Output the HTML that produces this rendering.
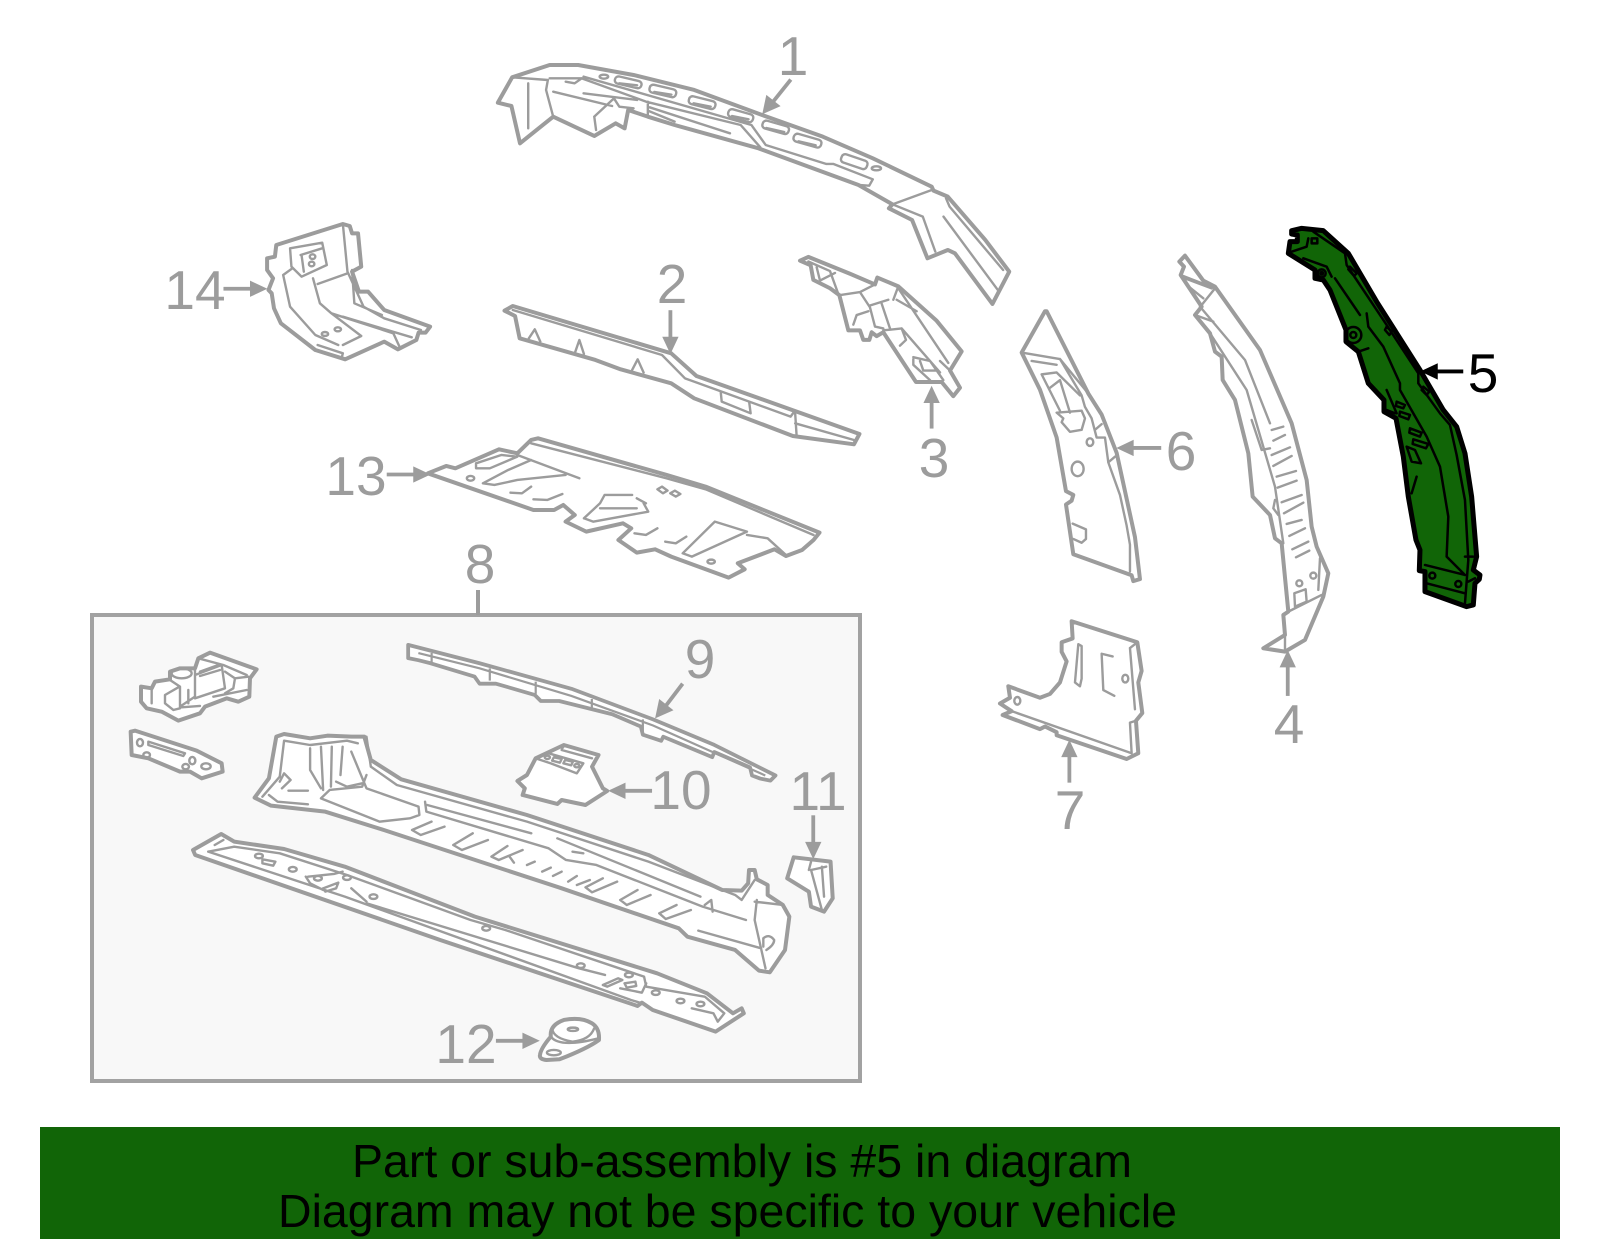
<!DOCTYPE html>
<html><head><meta charset="utf-8"><style>
html,body{margin:0;padding:0;background:#fff}
svg{display:block}
svg *{vector-effect:non-scaling-stroke}
.p path,.p ellipse,.p circle,.p rect{stroke:#9c9c9c;stroke-linejoin:round;stroke-linecap:round}
.o{fill:#fff;stroke-width:4}
.i{fill:none;stroke-width:2.4}
.h path,.h circle{stroke:#000;stroke-linejoin:round;stroke-linecap:round}
.g{fill:#116507;stroke-width:5}
.j{fill:none;stroke-width:2.5}
text{font-family:"Liberation Sans",sans-serif}
.n{font-size:55px;fill:#9c9c9c;text-anchor:middle}
</style></head><body>
<svg width="1600" height="1249" viewBox="0 0 1600 1249" xmlns="http://www.w3.org/2000/svg">
<rect width="1600" height="1249" fill="#fff"/>
<rect x="92" y="615" width="768" height="466" fill="#f8f8f8" stroke="#a2a2a2" stroke-width="4"/>
<path d="M478,590V615" stroke="#9c9c9c" stroke-width="4"/>

<!-- part 1 -->
<g class="p" transform="translate(480,20) scale(.3571,.3333)">
<path class="o" d="M50,248 90,172 195,135 275,135 430,165 600,210 790,285 960,350 1100,415 1265,500 1270,512 1310,530 1415,660 1482,755 1435,852 1330,700 1310,690 1253,715 1210,600 1145,565 1155,553 1060,495 780,385 545,315 470,290 415,270 405,325 380,310 320,348 205,290 112,370 88,258Z"/>
<path class="i" d="M195,175 285,175 465,245 730,315 785,382M290,170 760,315 800,375 970,432 990,432 1100,478 1090,497 1060,495M90,172 190,180 185,210 205,290M135,190V325M205,215 370,258M290,220 440,240M470,245V290M475,262 700,340M470,272 545,305M1155,553 1265,510M1155,553 1240,590 1275,695M1305,535 1315,560 1465,750M1298,590 1450,810M320,290 375,235 390,260 430,265 415,270M320,290 325,330M240,185 265,190 285,175"/>
<rect class="i" x="377" y="176" width="76" height="22" rx="10" transform="rotate(14 415 187)"/><rect class="i" x="474" y="201" width="76" height="24" rx="10" transform="rotate(14 512 213)"/><rect class="i" x="584" y="236" width="76" height="24" rx="10" transform="rotate(15 622 248)"/><rect class="i" x="694" y="275" width="72" height="24" rx="10" transform="rotate(17 730 287)"/><rect class="i" x="790" y="310" width="76" height="24" rx="10" transform="rotate(17 828 322)"/><rect class="i" x="877" y="350" width="80" height="24" rx="10" transform="rotate(17 917 362)"/><rect class="i" x="1010" y="412" width="76" height="26" rx="10" transform="rotate(20 1048 425)"/>
<path class="i" d="M390,190 440,196M488,216 536,224M598,250 646,260M706,288 752,298M802,324 852,336M892,364 940,376"/>
<ellipse class="i" cx="347" cy="170" rx="12" ry="6"/><ellipse class="i" cx="1110" cy="445" rx="13" ry="6"/>
</g>

<!-- part 2, 13, 14 -->
<g class="p" transform="translate(150,210) scale(.4592,.3333)">
<path class="o" d="M772,302 790,288 1135,430 1190,498 1545,672 1533,703 1400,678 1185,565 1135,520 1025,478 970,450 805,385 795,318Z"/>
<path class="i" d="M790,300 1115,435 1165,505 1395,620 1403,605M1405,610 1408,675M1405,640 1533,690M825,385 838,358 850,395M925,430 935,390 945,432M1050,480 1062,448 1075,488M1243,548 1245,575 1308,610 1305,578"/>
<path class="o" d="M275,105 420,42 435,48 440,70 453,70 460,170 440,185 455,245 475,245 510,300 610,350 600,368 585,368 580,390 540,418 510,395 425,448 360,420 285,340 270,295 265,250 258,240 268,205 255,180 255,145 272,140Z"/>
<path class="i" d="M420,42 430,185 465,290 510,325 590,360M440,180 445,280 505,315M305,115 375,98 385,165 330,200 308,170ZM328,135 375,115M330,135 335,185M290,195 310,175M290,195 305,290 360,375 410,405M355,205 370,280 395,310 460,378 420,405M365,222 430,190M395,310 530,370 545,415M420,320 570,382M365,405 420,430 418,440"/>
<ellipse class="i" cx="354" cy="140" rx="6" ry="7"/><ellipse class="i" cx="352" cy="162" rx="6" ry="7"/><ellipse class="i" cx="381" cy="372" rx="7" ry="6"/><ellipse class="i" cx="409" cy="358" rx="7" ry="6"/>
<path class="o" d="M605,790 645,768 665,775 760,718 800,730 830,690 845,685 1125,795 1210,830 1458,968 1445,990 1420,1020 1385,1038 1360,1018 1280,1060 1295,1078 1260,1103 1135,1040 1100,1018 1060,1028 1020,990 1048,955 1030,940 950,965 905,935 925,915 900,885 880,900 835,900Z"/>
<path class="i" d="M830,700 1125,805 1210,838 1445,975M800,735 935,805M710,760 765,735 800,740 740,775 710,775ZM725,820 780,780 830,750M725,820 750,825 800,810 905,795M1105,838 1115,830 1127,842 1117,850ZM1133,850 1143,842 1155,852 1145,860ZM785,848 810,850 830,830M835,868 865,870 898,852M945,925 980,880 990,855 1050,855M945,925 965,935 1085,905 1075,880M1060,865 1080,880M980,895 1060,895M1055,970 1080,975 1105,955M1122,995 1145,1000 1168,980M1160,1030 1230,935 1300,965 1180,1040ZM1300,975 1345,985 1385,1035"/>
<ellipse class="i" cx="698" cy="805" rx="8" ry="7"/><ellipse class="i" cx="1222" cy="1055" rx="8" ry="6"/>
</g>

<!-- parts 3, 6, 7 -->
<g class="p" transform="translate(780,250) scale(.3333,.3827)">
<path class="o" d="M60,28 85,18 210,62 285,90 292,72 355,95 470,185 545,265 510,315 540,360 520,382 485,345 408,345 310,215 290,225 275,215 268,235 250,235 240,210 205,210 178,118 150,100 100,78 92,40Z"/>
<path class="i" d="M85,30 150,55 175,115M110,45 120,80 165,60M178,118 240,110 285,90M240,110 270,150 285,200 310,205M270,145 325,130M305,140 330,205M340,130 355,95M350,130 410,160M265,160 230,170 220,195M310,210 365,205 378,235 360,250M365,205 480,320M400,280 450,290 490,340M400,285 400,300 450,340M420,290 430,315 475,315M480,290 510,315M355,100 505,295"/>
<path class="o" d="M795,160 725,268 780,365 830,490 858,630 880,640 875,655 858,665 880,795 1055,850 1060,865 1080,860 1065,750 1010,530 965,430 925,375 800,160Z"/>
<path class="i" d="M725,268 840,285 925,375M755,290 830,300M840,285 905,380 915,410 935,440 950,490 975,490 985,555 1020,640 1040,720 1050,770 1050,840M785,325 840,420M785,325 830,320 900,380M810,360 840,340 870,425M830,425 905,420 915,440 905,470 870,475 845,450 850,440ZM878,715 918,730 918,755 905,765 880,755M985,555 1005,540M945,470 965,455"/>
<ellipse class="i" cx="930" cy="502" rx="10" ry="10"/><ellipse class="i" cx="893" cy="572" rx="18" ry="19"/>
<path class="o" d="M875,970 1072,1025 1085,1100 1075,1130 1087,1210 1068,1230 1075,1315 1040,1330 830,1268 830,1260 795,1245 780,1252 668,1215 695,1205 660,1185 690,1170 685,1140 780,1170 810,1160 840,1130 860,1075 845,1050 845,1025 878,1015Z"/>
<path class="i" d="M695,1205 1055,1315 1050,1235 1068,1230M1050,1040 1072,1025M1050,1040 1065,1200M895,1030 905,1035 905,1120 900,1140 885,1130ZM998,1062 965,1055 970,1150 1003,1165"/>
<ellipse class="i" cx="712" cy="1178" rx="9" ry="10"/><ellipse class="i" cx="1036" cy="1120" rx="9" ry="10"/>
</g>

<!-- part 4 -->
<g class="p" transform="translate(1160,210) scale(.3333)">
<path class="o" d="M75,137 58,155 72,170 62,195 125,290 105,315 150,370 165,425 185,440 188,510 225,570 265,730 278,860 330,915 345,985 365,1000 385,1205 370,1215 375,1275 310,1315 375,1325 435,1290 490,1160 505,1090 470,1010 455,950 440,810 395,640 300,420 165,230 130,212Z"/>
<path class="i" d="M62,195 165,235M165,235 125,285M80,225 130,265M75,205 155,235M120,290 255,450 330,640M105,315 160,335M150,370 260,540 345,830 370,1000M275,630 305,720 330,715M335,660 370,650M340,692 375,675M335,735 390,712M340,768 395,738M350,800 408,783M353,833 410,812M365,877 425,855M372,910 430,878M380,942 425,930M388,978 435,955M397,1018 445,995M408,1042 448,1022M403,1150 437,1138 440,1175 405,1190ZM385,1205 485,1155M480,1045 475,1140M375,1275V1325M345,870 340,895 355,915"/>
<circle class="i" cx="418" cy="1120" r="9"/><circle class="i" cx="460" cy="1097" r="9"/>
</g>

<!-- part 5 highlighted -->
<g class="h" transform="translate(1160,210) scale(.3333)">
<path class="g" d="M395,62 425,55 490,62 565,130 650,275 780,480 850,600 890,650 915,730 935,860 950,1040 940,1080 960,1095 958,1108 945,1120 940,1185 920,1190 795,1145 795,1085 778,1082 780,1020 768,990 745,860 730,740 708,625 672,605 672,570 625,520 595,425 558,395 558,360 510,240 490,210 465,205 465,180 385,130 390,95 412,95 412,75 395,72Z"/>
<path class="j" d="M395,125 440,110 445,85M460,65 555,130 560,165 670,330 775,490 775,520 840,610 870,645 890,735 915,870 925,1050 915,1180M430,145 500,170 515,200M525,205 600,315M620,310 625,350 670,410 720,520 720,540 800,680 840,770 865,920 860,1040 915,1095M595,425 625,415M795,1065 915,1095M800,1120 915,1150M680,540 710,610M680,600 705,610M740,710 765,720 783,760 755,755ZM770,800 755,850M915,1040 940,1040M925,1115 945,1105M710,575 735,585 730,595 708,588ZM720,605 750,615 745,628 718,618ZM750,655 785,668 780,680 748,668ZM760,688 805,702 798,715 758,702ZM455,85 472,85 472,100 455,100ZM570,170 590,190 582,198 565,178ZM680,350 695,365 688,375 675,360ZM790,530 808,545 800,555 785,540"/>
<circle class="j" cx="485" cy="190" r="12"/><circle class="j" cx="485" cy="190" r="4"/><circle class="j" cx="580" cy="375" r="24"/><circle class="j" cx="580" cy="375" r="9"/><circle class="j" cx="817" cy="1097" r="9"/><circle class="j" cx="895" cy="1122" r="9"/>
</g>

<!-- box parts A, B -->
<g class="p" transform="translate(80,600) scale(.3333)">
<path class="o" d="M183,260 215,265 225,245 270,238 270,215 300,205 345,205 355,175 390,158 530,208 510,235 508,290 475,305 440,295 375,320 360,340 295,362 245,335 200,325 183,305Z"/>
<path class="i" d="M355,175 430,195 500,225M345,205V290L300,320M270,240 300,260 300,325 280,330 255,310 255,285 295,262M215,265V310M345,225 425,195 435,265 345,295M360,215 415,195M360,228 420,210M435,215 465,235 460,265 435,280M465,235 505,230M400,290 500,270M325,270V310M305,322 360,318"/>
<ellipse class="i" cx="305" cy="220" rx="30" ry="15"/>
<path class="o" d="M152,395 165,392 350,452 425,490 428,515 365,535 330,515 300,515 205,475 155,465Z"/>
<path class="i" d="M205,425 315,460 310,468 205,435Z"/>
<ellipse class="i" cx="180" cy="428" rx="9" ry="11"/><ellipse class="i" cx="337" cy="482" rx="9" ry="11"/><ellipse class="i" cx="378" cy="499" rx="14" ry="9"/><ellipse class="i" cx="200" cy="465" rx="10" ry="8"/><ellipse class="i" cx="317" cy="500" rx="10" ry="8"/>
</g>

<!-- sill etc -->
<g class="p" transform="translate(180,720) scale(.4337,.3333)">
<path class="o" d="M172,233 205,175 222,50 240,42 300,55 340,47 395,50 425,50 440,120 510,178 800,285 1080,405 1250,510 1295,512 1310,490 1312,450 1325,450 1330,478 1355,495 1355,525 1390,555 1405,590 1395,690 1360,757 1335,752 1280,690 1170,650 1150,625 880,505 470,330 335,275 210,257Z"/>
<path class="i" d="M240,62 300,75 385,62 410,70M190,230 230,170 240,62M430,50 440,140 500,195 800,305 1080,425 1280,525 1295,540 1325,480M395,95 430,205 550,260 552,285 530,295 460,305 325,235 345,210 420,200 430,165M300,85V150L325,205M325,80 330,210M350,80 348,200M375,80 370,165M360,185 385,200 420,190M250,212H295M230,185 240,160 255,180 235,205M205,225 225,245 295,253M565,245 568,275 850,385 890,420 960,435 1205,560 1305,600M570,255 810,340M870,355 1200,530M905,395 930,400M610,320 555,345 535,330 580,305M710,360 650,390 630,375 675,340M790,390 735,420 718,410 755,378M800,435 818,425M835,455 855,443M860,468 880,455M895,485 915,468M915,495 945,480M1008,485 950,517 935,502 975,475M1085,525 1030,555 1015,540 1055,510M1178,570 1120,597 1105,580 1145,555M1195,632 1340,685M1330,540 1325,600 1350,745M1210,555 1225,540 1228,575M1325,545 1390,555M760,410 770,428"/>
<path class="i" d="M1345,680 1345,655 Q1358,640 1370,660 1370,675 1352,690"/>
<path class="o" d="M30,390 95,342 125,365 240,387 380,440 680,590 1100,760 1215,820 1275,880 1295,865 1300,880 1235,935 1090,870 1065,848 1055,858 600,660 35,405Z"/>
<path class="i" d="M65,395 125,380 230,400 385,465 670,600 750,630 1070,770 1075,800 1210,830 1255,880 1240,905M65,395 380,530 1040,840 1060,848M80,375 100,360M190,418 220,425 215,437 190,430ZM295,470 355,462 375,455M290,470 300,490 330,510M330,505 365,488 360,505 335,515ZM395,505 430,545M975,795 1010,775 1020,780 985,800ZM1025,790 1050,785 1052,798 1030,803ZM1015,805 1065,818 1075,790M1180,865 1230,880 1240,905M430,550 920,745 980,765"/>
<ellipse class="i" cx="182" cy="408" rx="9" ry="7"/><ellipse class="i" cx="260" cy="448" rx="9" ry="7"/><ellipse class="i" cx="385" cy="473" rx="9" ry="7"/><ellipse class="i" cx="446" cy="530" rx="9" ry="7"/><ellipse class="i" cx="706" cy="625" rx="9" ry="7"/><ellipse class="i" cx="924" cy="737" rx="9" ry="7"/><ellipse class="i" cx="1035" cy="765" rx="9" ry="7"/><ellipse class="i" cx="1097" cy="818" rx="9" ry="7"/><ellipse class="i" cx="1154" cy="843" rx="9" ry="7"/><ellipse class="i" cx="1200" cy="852" rx="9" ry="7"/><ellipse class="i" cx="318" cy="475" rx="9" ry="7"/>
<!-- part 12 mount -->
<path class="o" d="M830,1005 Q832,985 855,950 Q852,915 885,900 Q925,890 950,910 Q968,925 966,960 Q940,985 875,1018 L845,1020 Q828,1018 830,1005Z"/>
<path class="i" d="M858,925 Q860,955 905,965 Q945,960 955,925M855,950 Q875,985 965,955"/>
<ellipse class="i" cx="906" cy="928" rx="12" ry="5"/><ellipse class="i" cx="862" cy="998" rx="16" ry="8"/>
<path class="o" d="M778,183 800,165 820,115 885,75 965,105 950,140 975,205 985,213 935,255 880,240 870,252 790,225 795,205Z"/>
<path class="i" d="M820,115 850,100 930,130 915,160 855,130ZM885,75 880,90 950,115M862,112 880,117 876,128 858,122ZM888,120 906,125 902,136 884,130Z"/>
<ellipse class="i" cx="847" cy="112" rx="6" ry="5"/><ellipse class="i" cx="915" cy="137" rx="6" ry="5"/>
<path class="o" d="M1415,412 1500,425 1505,535 1485,575 1455,560 1450,515 1400,475Z"/>
<path class="i" d="M1455,450 1490,440M1455,450 1480,570M1480,440 1485,530M1455,425 1450,450"/>
</g>

<!-- part 9 + arrows + labels, in scaled coordinates -->
<g transform="scale(1.0204)">
<path d="M400,632 470,650 560,675 640,705 700,730 760,760 755,765 745,763 737,760 735,752 700,737 698,742 686,737 650,722 648,726 630,720 628,712 600,700 548,687 530,687 524,681 486,670 470,670 465,663 422,650 410,647 400,645Z" fill="#fff" stroke="#9c9c9c" stroke-width="3.8" stroke-linejoin="round"/>
<path d="M410,640 470,655 560,682 640,711 750,760M423,640V650M480,655V667M525,668V680M580,685V695M630,705V717" fill="none" stroke="#9c9c9c" stroke-width="2.2"/>
<g stroke="#9c9c9c" stroke-width="3.8" fill="#9c9c9c">
<path d="M775,78 755,103"/><path stroke="none" d="M747,112 751,93 765,104Z"/>
<path d="M657,304V335"/><path stroke="none" d="M657,347 649,330H665Z"/>
<path d="M913,420V390"/><path stroke="none" d="M913,378 905,395H921Z"/>
<path d="M1262,682V650"/><path stroke="none" d="M1262,637 1254,654H1270Z"/>
<path d="M1138,439H1106"/><path stroke="none" d="M1094,439 1111,431V447Z"/>
<path d="M1048,767V737"/><path stroke="none" d="M1048,725 1040,742H1056Z"/>
<path d="M669,670 650,695"/><path stroke="none" d="M642,704 646,685 660,696Z"/>
<path d="M639,775H608"/><path stroke="none" d="M596,775 613,767V783Z"/>
<path d="M797,799V830"/><path stroke="none" d="M797,842 789,825H805Z"/>
<path d="M486,1020H517"/><path stroke="none" d="M529,1020 512,1012V1028Z"/>
<path d="M379,465H410"/><path stroke="none" d="M422,465 405,457V473Z"/>
<path d="M219,283H250"/><path stroke="none" d="M262,283 245,275V291Z"/>
</g>
<path d="M1434,364H1405" stroke="#000" stroke-width="3.8"/><path d="M1392,364 1409,356V372Z" fill="#000"/>
</g>
<g class="t">
<text class="n" x="793" y="75">1</text>
<text class="n" x="672" y="303">2</text>
<text class="n" x="934" y="477">3</text>
<text class="n" x="1289" y="743">4</text>
<text class="n" x="1483" y="392" style="fill:#000">5</text>
<text class="n" x="1181" y="470">6</text>
<text class="n" x="1070" y="829">7</text>
<text class="n" x="480" y="583">8</text>
<text class="n" x="700" y="678">9</text>
<text class="n" x="681" y="809">10</text>
<text class="n" x="818" y="810">11</text>
<text class="n" x="466" y="1063">12</text>
<text class="n" x="356" y="495">13</text>
<text class="n" x="195" y="309">14</text>
</g>

<rect x="40" y="1127" width="1520" height="112" fill="#116507"/>
<text x="352" y="1177" font-size="46" fill="#000" textLength="780" lengthAdjust="spacingAndGlyphs">Part or sub-assembly is #5 in diagram</text>
<text x="278" y="1227" font-size="46" fill="#000" textLength="899" lengthAdjust="spacingAndGlyphs">Diagram may not be specific to your vehicle</text>
</svg>
</body></html>
